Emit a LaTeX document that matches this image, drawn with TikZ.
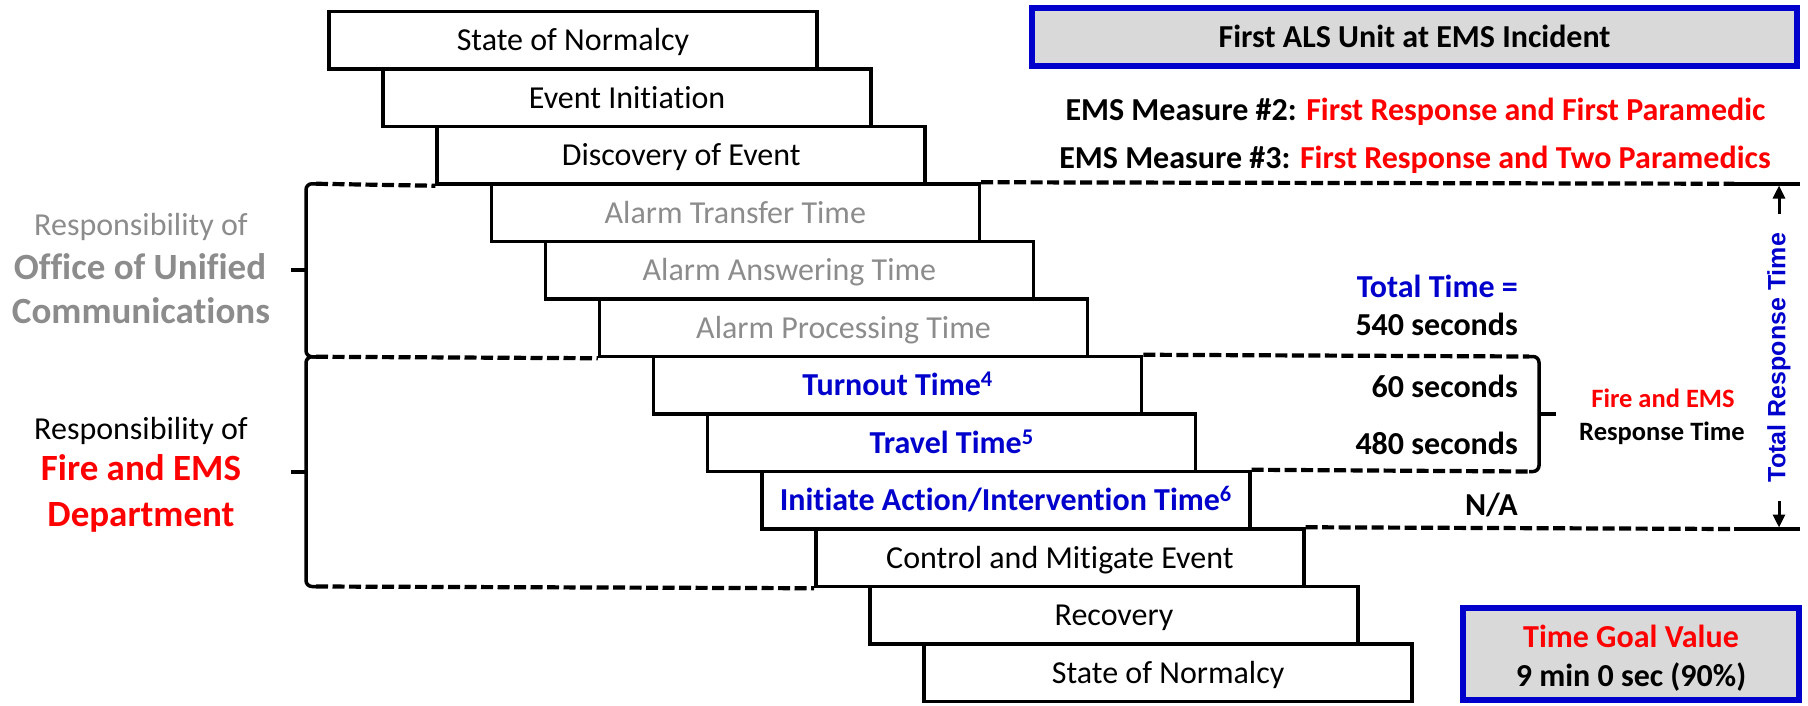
\documentclass[tikz,border=0pt]{standalone}
\usepackage{fontspec}
\setmainfont{Carlito}[Ligatures=NoCommon]
\newfontfamily\arialfont{Liberation Sans}
\usetikzlibrary{arrows.meta}
\definecolor{dblue}{RGB}{0,0,204}
\definecolor{bred}{RGB}{255,0,0}
\definecolor{tgray}{RGB}{140,140,140}
\definecolor{fillgray}{RGB}{217,217,217}
\begin{document}
\begin{tikzpicture}[x=1pt,y=-1pt,
  fs/.style={font=\fontsize{32}{38}\selectfont},
  stepbox/.style={draw, line width=3.5pt, minimum width=488pt, minimum height=57.5pt,
    inner sep=0pt, text height=20.6pt, text depth=0pt, fs},
  lbl/.style={inner sep=0pt, text height=20.6pt, text depth=0pt, fs},
  blbl/.style={inner sep=0pt, text height=23.8pt, text depth=0pt, font=\fontsize{37}{44}\selectfont\bfseries},
  slbl/.style={inner sep=0pt, text height=17pt, text depth=0pt, font=\fontsize{26.5}{32}\selectfont\bfseries},
  dsh/.style={line width=4.2pt, dash pattern=on 12pt off 4.5pt},
  brk/.style={line width=3.5pt, rounded corners=6pt},
  solidln/.style={line width=3.5pt},
  goalbox/.style={draw=dblue, fill=fillgray, line width=6pt, inner sep=0pt},
  arr/.style={line width=3pt, -{Triangle[length=13pt,width=12pt]}}]
\useasboundingbox (0,0) rectangle (1808,705);

% steps
\node[stepbox] (b0) at (573,40.25) {State of Normalcy};
\node[stepbox] (b1) at (627.1,97.75) {Event Initiation};
\node[stepbox] (b2) at (681.2,155.25) {Discovery of Event};
\node[stepbox, text=tgray] (b3) at (735.3,212.75) {Alarm Transfer Time};
\node[stepbox, text=tgray] (b4) at (789.4,270.25) {Alarm Answering Time};
\node[stepbox, text=tgray] (b5) at (843.5,327.75) {Alarm Processing Time};
\node[stepbox, text=dblue, font=\fontsize{32}{38}\selectfont\bfseries] (b6) at (897.6,385.25) {Turnout Time\textsuperscript{4}};
\node[stepbox, text=dblue, font=\fontsize{32}{38}\selectfont\bfseries] (b7) at (951.7,442.75) {Travel Time\textsuperscript{5}};
\node[stepbox, text=dblue, font=\fontsize{32}{38}\selectfont\bfseries] (b8) at (1005.8,500.25) {Initiate Action/Intervention Time\textsuperscript{6}};
\node[stepbox] (b9) at (1059.9,557.75) {Control and Mitigate Event};
\node[stepbox] (b10) at (1114,615.25) {Recovery};
\node[stepbox] (b11) at (1168.1,672.75) {State of Normalcy};

% left brackets
\coordinate (l1a) at (316,183.75);
\coordinate (l1b) at (316,356.75);
\coordinate (l2b) at (316,586.5);
\draw[brk] (l1a) -- (306,183.75) -- (306,356.75) -- (l1b);
\draw[brk] (l1b) -- (306,356.75) -- (306,586.5) -- (l2b);
\draw[solidln] (306,270) -- (291,270);
\draw[solidln] (306,472) -- (291,472);
\draw[dsh] (l1a) -- (b2.south west);
\draw[dsh] (l1b) -- (b5.south west);
\draw[dsh] (l2b) -- (b9.south west);

% right lines
\coordinate (t1) at (1734,183.75);
\coordinate (t1e) at (1800,183.75);
\coordinate (t2) at (1734,529);
\coordinate (t2e) at (1800,529);
\draw[dsh] (b3.north east) -- (t1);
\draw[solidln] (t1) -- (t1e);
\draw[dsh] (b9.north east) -- (t2);
\draw[solidln] (t2) -- (t2e);

\coordinate (r1) at (1529,356.5);
\coordinate (r2) at (1529,471.5);
\draw[dsh] (b6.north east) -- (r1);
\draw[dsh] (b8.north east) -- (r2);
\draw[brk] (r1) -- (1539,356.5) -- (1539,471.5) -- (r2);
\draw[solidln] (1539,414) -- (1556,414);

% total response time arrows
\coordinate (ua) at (1779,214);
\coordinate (ub) at (1779,185.5);
\coordinate (da) at (1779,501);
\coordinate (db) at (1779,527.5);
\draw[arr] (ua) -- (ub);
\draw[arr] (da) -- (db);
\node[rotate=90, inner sep=0pt, text=dblue, font=\arialfont\fontsize{25}{30}\selectfont\bfseries] (trt) at (1779,357.5) {Total Response Time};

% left labels
\node[lbl, text=tgray] (o1) at (141,225) {Responsibility of};
\node[blbl, text=tgray] (o2) at (140,267.5) {Office of Unified};
\node[blbl, text=tgray] (o3) at (141,312) {Communications};
\node[lbl] (f1) at (141,429) {Responsibility of};
\node[blbl, text=bred] (f2) at (141,469) {Fire and EMS};
\node[blbl, text=bred] (f3) at (141,515) {Department};

% header
\node[goalbox, minimum width=765pt, minimum height=57.5pt, lbl] (hdr) at (1414.5,36.75) {\bfseries First ALS Unit at EMS Incident};
\node[lbl] (m2) at (1415.5,110) {\bfseries EMS Measure \#2: \textcolor{bred}{First Response and First Paramedic}};
\node[lbl] (m3) at (1415,158) {\bfseries EMS Measure \#3: \textcolor{bred}{First Response and Two Paramedics}};

% times
\node[lbl, anchor=east, text=dblue] (tt) at (1518,287) {\bfseries Total Time =};
\node[lbl, anchor=east] (s540) at (1518,325) {\bfseries 540 seconds};
\node[lbl, anchor=east] (s60) at (1518,387) {\bfseries 60 seconds};
\node[lbl, anchor=east] (s480) at (1518,444) {\bfseries 480 seconds};
\node[lbl, anchor=east] (na) at (1518,505) {\bfseries N/A};
\node[slbl, text=bred] (fe1) at (1663,398.5) {Fire and EMS};
\node[slbl] (fe2) at (1662,431.5) {Response Time};

% goal box
\node[goalbox, minimum width=336pt, minimum height=92pt] (goal) at (1631,654) {};
\node[lbl, text=bred] (g1) at (1631,637.5) {\bfseries Time Goal Value};
\node[lbl] (g2) at (1631,676) {\bfseries 9 min 0 sec (90\%)};
\end{tikzpicture}
\end{document}
